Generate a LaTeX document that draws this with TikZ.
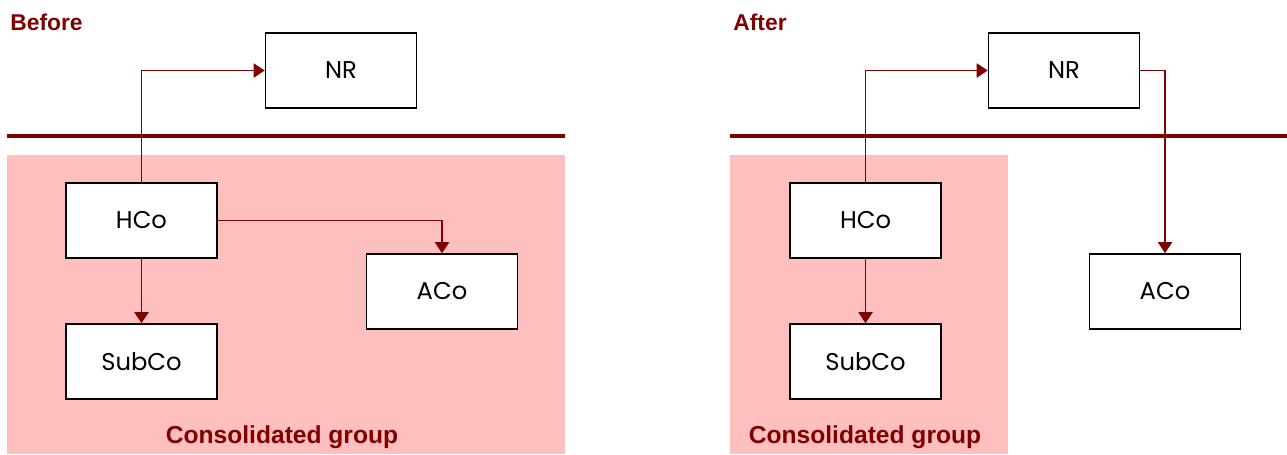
\documentclass[tikz,border=0pt]{standalone}
\usepackage{fontspec}
\setmainfont{Liberation Sans}
\newfontfamily\boxfont{Poppins}
\usepackage{tikz}
\usetikzlibrary{positioning}
\usetikzlibrary{arrows.meta}
\definecolor{darkred}{HTML}{800000}
\definecolor{groupfill}{HTML}{FFBFBF}

\begin{document}
\begin{tikzpicture}[
      x=0.02cm, y=-0.02cm,
      entity/.style={draw=black, line width=0.9pt, fill=white, minimum width=3.02cm, minimum height=1.5cm, inner sep=0pt, font=\boxfont\fontsize{13.8}{16}\selectfont},
      heading/.style={anchor=base west, inner sep=0pt, text=darkred, font=\bfseries\fontsize{13}{15}\selectfont},
      grouplabel/.style={text=darkred, font=\bfseries\fontsize{14}{16}\selectfont},
      border/.style={darkred, line width=2.8pt},
      group/.style={fill=groupfill, draw=none},
      link/.style={darkred, line width=1.1pt, -{Triangle[width=0.28cm,length=0.22cm]}}
    ]
    \useasboundingbox (0,0) rectangle (1287,454);

    % before
    \fill[group] (7,155) rectangle (565,454);
    \draw[border] (7,136) -- (565,136);
    \node[heading] (before) at (10,30) {Before};
    \node[entity] (nr1) at (341,70.5) {NR};
    \node[entity] (hco1) at (141.5,220.5) {HCo};
    \node[entity] (aco1) at (442,291.5) {ACo};
    \node[entity] (sub1) at (141.5,361.5) {SubCo};
    \node[grouplabel] (grp1) at (282,437) {Consolidated group};

    \draw[link] (hco1.north) |- (nr1.west);
    \draw[link] (hco1.east) -| (aco1.north);
    \draw[link] (hco1.south) -- (sub1.north);

    % after
    \fill[group] (730,155) rectangle (1008,454);
    \draw[border] (730,136) -- (1287,136);
    \node[heading] (after) at (733,30) {After};
    \node[entity] (nr2) at (1064,70.5) {NR};
    \node[entity] (hco2) at (865.5,220.5) {HCo};
    \node[entity] (aco2) at (1165,291.5) {ACo};
    \node[entity] (sub2) at (865.5,361.5) {SubCo};
    \node[grouplabel] (grp2) at (865,437) {Consolidated group};

    \draw[link] (hco2.north) |- (nr2.west);
    \draw[link] (nr2.east) -| (aco2.north);
    \draw[link] (hco2.south) -- (sub2.north);
\end{tikzpicture}
\end{document}
